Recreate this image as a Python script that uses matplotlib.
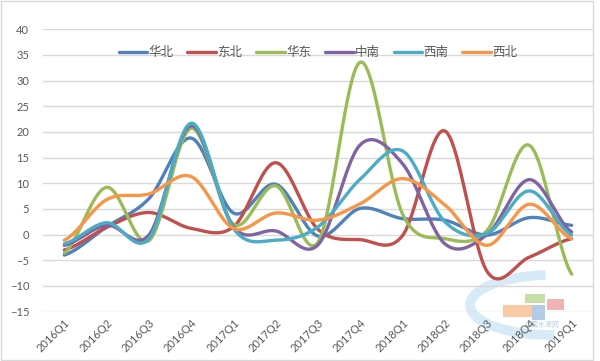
import numpy as np
import matplotlib
matplotlib.use("Agg")
import matplotlib.pyplot as plt
from matplotlib.patches import Rectangle, Arc

plt.rcParams['font.family'] = ['Lato', 'Noto Sans CJK SC', 'DejaVu Sans']

quarters = ['2016Q1', '2016Q2', '2016Q3', '2016Q4', '2017Q1', '2017Q2', '2017Q3',
            '2017Q4', '2018Q1', '2018Q2', '2018Q3', '2018Q4', '2019Q1']

huabei = [-4, 1.5, 7, 18.8, 4.2, 9.8, -0.3, 5.1, 3.1, 2.8, -0.1, 3.3, 1.8]
dongbei = [-3, 1.4, 4.3, 1.2, 1.5, 14, 1, -1, -0.2, 20.2, -7.2, -4.4, -0.8]
huadong = [-3.6, 9.2, -1.2, 20.7, 2, 9.5, -1.5, 33.6, 4, -0.8, 0.8, 17.4, -7.7]
zhongnan = [-2.1, 1.8, -0.1, 21.2, 1.5, 0.7, -2, 17.5, 13.8, -1.8, 0, 10.7, 0.5]
xinan = [-1.8, 2.3, -0.8, 21.7, 1.2, -1.1, 1.5, 10.8, 16.3, 2.5, 0.2, 8.5, -0.1]
xibei = [-1.1, 6.8, 7.9, 11.3, 1.2, 4.2, 2.8, 6, 10.9, 5.8, -2.1, 5.9, -0.8]

series = [('华北', huabei, '#4F81BD'), ('东北', dongbei, '#C0504D'),
          ('华东', huadong, '#9BBB59'), ('中南', zhongnan, '#8064A2'),
          ('西南', xinan, '#4BACC6'), ('西北', xibei, '#F79646')]


def smooth(y, n=24):
    # catmull-rom curve through the points, like excel's smoothed line
    y = np.asarray(y, dtype=float)
    p = np.concatenate([[y[0]], y, [y[-1]]])
    xs, ys = [], []
    for i in range(len(y) - 1):
        p0, p1, p2, p3 = p[i], p[i + 1], p[i + 2], p[i + 3]
        m1 = (p2 - p0) / 2
        m2 = (p3 - p1) / 2
        t = np.linspace(0, 1, n, endpoint=False)
        h00 = 2 * t**3 - 3 * t**2 + 1
        h10 = t**3 - 2 * t**2 + t
        h01 = -2 * t**3 + 3 * t**2
        h11 = t**3 - t**2
        xs.append(i + t)
        ys.append(h00 * p1 + h10 * m1 + h01 * p2 + h11 * m2)
    xs.append([len(y) - 1])
    ys.append([y[-1]])
    return np.concatenate(xs), np.concatenate(ys)


fig = plt.figure(figsize=(6, 3.61), dpi=100)
ax = fig.add_axes([0.072, 0.137, 0.916, 0.782])
ax.patch.set_visible(False)

for name, vals, color in series:
    sx, sy = smooth(vals)
    ax.plot(sx, sy, color=color, lw=2.4, label=name, solid_capstyle='round', zorder=3)

ax.set_xlim(-0.5, len(quarters) - 0.5)
ax.set_ylim(-15, 40)
ax.set_yticks(range(-15, 41, 5))
ax.set_xticks(range(len(quarters)))
ax.set_xticklabels(quarters, rotation=45, ha='right', va='top', rotation_mode='anchor')
ax.tick_params(axis='both', length=0, labelsize=8, labelcolor='#595959')
ax.tick_params(axis='y', pad=10)
ax.tick_params(axis='x', pad=4)
ax.grid(axis='y', color='#D9D9D9', lw=1)
ax.set_axisbelow(True)
for s in ax.spines.values():
    s.set_visible(False)

leg = ax.legend(loc='upper center', bbox_to_anchor=(0.5, 0.98), ncol=6, frameon=False,
                fontsize=9, handlelength=2.3, columnspacing=1.1, handletextpad=0.1)
for t in leg.get_texts():
    t.set_color('#595959')

# faint watermark in the lower right, behind the chart
fig.patches.append(Arc((550 / 600, 1 - 305 / 361), 160 / 600, 60 / 361, theta1=95, theta2=275,
                       transform=fig.transFigure, color='#D6EAF8', lw=7, zorder=-2))
for (x0, y0, w, h, c) in [(503, 305, 29, 12, '#F9C9A4'), (532, 305, 13, 15, '#B4CBE5'),
                          (525, 294, 20, 9, '#C6DFA6'), (547, 299, 17, 11, '#F2B3B3')]:
    fig.patches.append(Rectangle((x0 / 600, 1 - (y0 + h) / 361), w / 600, h / 361,
                                 transform=fig.transFigure, color=c, lw=0, zorder=-1))
fig.text(542 / 600, 1 - 324 / 361, '中国水泥网', fontsize=5, color='#B4CBE5',
         ha='center', va='center', zorder=-1)

fig.patches.append(Rectangle((0.001, 0.002), 0.987, 0.996, transform=fig.transFigure,
                             fill=False, edgecolor='#D9D9D9', lw=1))

fig.savefig('out.png', dpi=100)
